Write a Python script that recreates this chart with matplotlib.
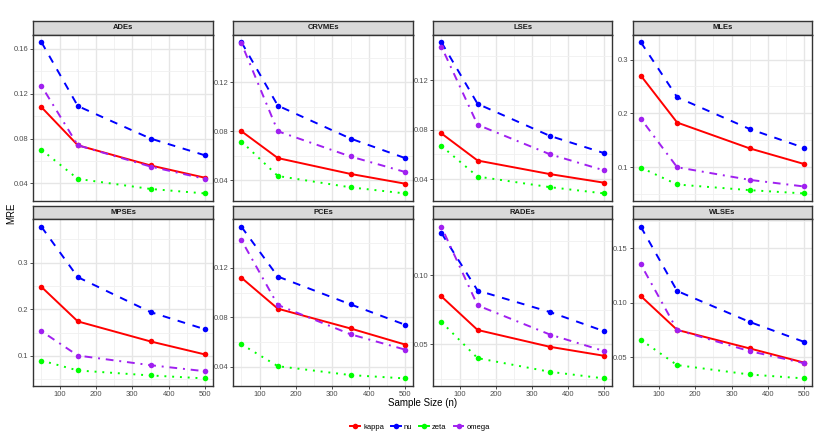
import numpy as np
import matplotlib
matplotlib.use("Agg")
import matplotlib.pyplot as plt
from matplotlib.lines import Line2D
from matplotlib.ticker import MultipleLocator, FormatStrFormatter

plt.rcParams['font.family'] = ['Liberation Sans', 'DejaVu Sans']

# sample sizes and estimator panels
sample_sizes = [50, 150, 350, 500]
estimators = ["ADEs", "CRVMEs", "LSEs", "MLEs", "MPSEs", "PCEs", "RADEs", "WLSEs"]

# MRE values, one row per estimator (same order as above)
kappa = [
    [0.108, 0.074, 0.056, 0.045],
    [0.080, 0.058, 0.045, 0.037],
    [0.077, 0.055, 0.044, 0.037],
    [0.270, 0.183, 0.135, 0.106],
    [0.248, 0.174, 0.131, 0.103],
    [0.112, 0.087, 0.071, 0.058],
    [0.0846, 0.0603, 0.0481, 0.0416],
    [0.106, 0.075, 0.058, 0.045],
]
nu = [
    [0.166, 0.109, 0.080, 0.065],
    [0.153, 0.101, 0.074, 0.058],
    [0.151, 0.101, 0.075, 0.061],
    [0.332, 0.230, 0.171, 0.136],
    [0.377, 0.269, 0.194, 0.157],
    [0.1532, 0.113, 0.0905, 0.074],
    [0.1305, 0.0889, 0.0733, 0.0594],
    [0.1695, 0.1107, 0.0823, 0.064],
]
zeta = [
    [0.070, 0.044, 0.035, 0.031],
    [0.0716, 0.0433, 0.034, 0.029],
    [0.0668, 0.042, 0.0334, 0.0283],
    [0.0994, 0.068, 0.0575, 0.0514],
    [0.090, 0.0687, 0.058, 0.0516],
    [0.0582, 0.0405, 0.0333, 0.0306],
    [0.0661, 0.0399, 0.030, 0.0252],
    [0.0659, 0.0427, 0.0341, 0.0305],
]
omega = [
    [0.127, 0.074, 0.055, 0.044],
    [0.152, 0.080, 0.0593, 0.0466],
    [0.1474, 0.084, 0.0601, 0.047],
    [0.190, 0.100, 0.0766, 0.0643],
    [0.153, 0.1007, 0.080, 0.067],
    [0.1424, 0.090, 0.0663, 0.0539],
    [0.135, 0.0781, 0.057, 0.045],
    [0.135, 0.075, 0.0555, 0.0445],
]

# y tick step and label decimals for each panel
y_steps = [0.04, 0.04, 0.04, 0.1, 0.1, 0.04, 0.05, 0.05]
y_decimals = [2, 2, 2, 1, 1, 2, 2, 2]

series = [
    ("kappa", kappa, "#FF0000", (None, None)),
    ("nu", nu, "#0000FF", (4, 4)),
    ("zeta", zeta, "#00FF00", (1, 3)),
    ("omega", omega, "#A020F0", (1, 3, 4, 3)),
]

W, H = 822, 442
fig = plt.figure(figsize=(W / 100, H / 100), dpi=100)

col_x = [(33.3, 213.3), (233.3, 413.3), (433.3, 612.3), (632.7, 812.3)]
row_y = [(20.7, 34.7, 201.0), (206.0, 219.3, 386.0)]

def to_fig(x0, x1, y0, y1):
    return [x0 / W, 1 - y1 / H, (x1 - x0) / W, (y1 - y0) / H]

xs = np.array(sample_sizes)
xlo = xs.min() - 0.05 * (xs.max() - xs.min())
xhi = xs.max() + 0.05 * (xs.max() - xs.min())

for i, name in enumerate(estimators):
    r, c = divmod(i, 4)
    x0, x1 = col_x[c]
    s0, s1, p1 = row_y[r]

    # strip
    sax = fig.add_axes(to_fig(x0, x1, s0, s1))
    sax.set_facecolor("#D9D9D9")
    sax.set_xticks([])
    sax.set_yticks([])
    for sp in sax.spines.values():
        sp.set_color("#333333")
        sp.set_linewidth(1.0)
    sax.text(0.5, 0.5, name, ha="center", va="center", fontsize=5.5,
             fontweight="bold", color="#1A1A1A", transform=sax.transAxes)

    ax = fig.add_axes(to_fig(x0, x1, s1, p1))
    allv = np.concatenate([kappa[i], nu[i], zeta[i], omega[i]])
    pad = 0.05 * (allv.max() - allv.min())
    ax.set_ylim(allv.min() - pad, allv.max() + pad)
    ax.set_xlim(xlo, xhi)

    ax.xaxis.set_major_locator(MultipleLocator(100))
    ax.xaxis.set_minor_locator(MultipleLocator(50))
    ax.yaxis.set_major_locator(MultipleLocator(y_steps[i]))
    ax.yaxis.set_minor_locator(MultipleLocator(y_steps[i] / 2))
    ax.yaxis.set_major_formatter(FormatStrFormatter("%%.%df" % y_decimals[i]))
    ax.grid(which="major", color="#E6E6E6", linewidth=1.0)
    ax.grid(which="minor", color="#F0F0F0", linewidth=0.6)
    ax.set_axisbelow(True)

    for sp in ax.spines.values():
        sp.set_color("#333333")
        sp.set_linewidth(1.0)
    ax.tick_params(which="major", length=2, width=0.6, color="#333333",
                   labelsize=5.5, labelcolor="#4D4D4D", pad=1.5)
    ax.tick_params(which="minor", length=0)
    if r == 0:
        ax.tick_params(axis="x", which="both", length=0, labelbottom=False)

    for lab, vals, col, dash in series:
        line, = ax.plot(sample_sizes, vals[i], color=col, linewidth=1.4,
                        marker="o", markersize=4, markeredgewidth=0)
        if dash[0] is not None:
            line.set_dashes(dash)

fig.text(423 / W, 1 - 403 / H, "Sample Size (n)", ha="center", va="center",
         fontsize=7)
fig.text(11 / W, 1 - 213 / H, "MRE", ha="center", va="center",
         rotation=90, fontsize=7)

handles = []
for lab, vals, col, dash in series:
    h = Line2D([0], [0], color=col, linewidth=1.4, marker="o",
               markersize=4, markeredgewidth=0)
    handles.append(h)
fig.legend(handles, [s[0] for s in series], loc="center",
           bbox_to_anchor=(420 / W, 1 - 427 / H), ncol=4, frameon=False,
           fontsize=5.5, handlelength=1.3, handletextpad=0.4, columnspacing=0.9)

fig.savefig("out.png", dpi=100)
